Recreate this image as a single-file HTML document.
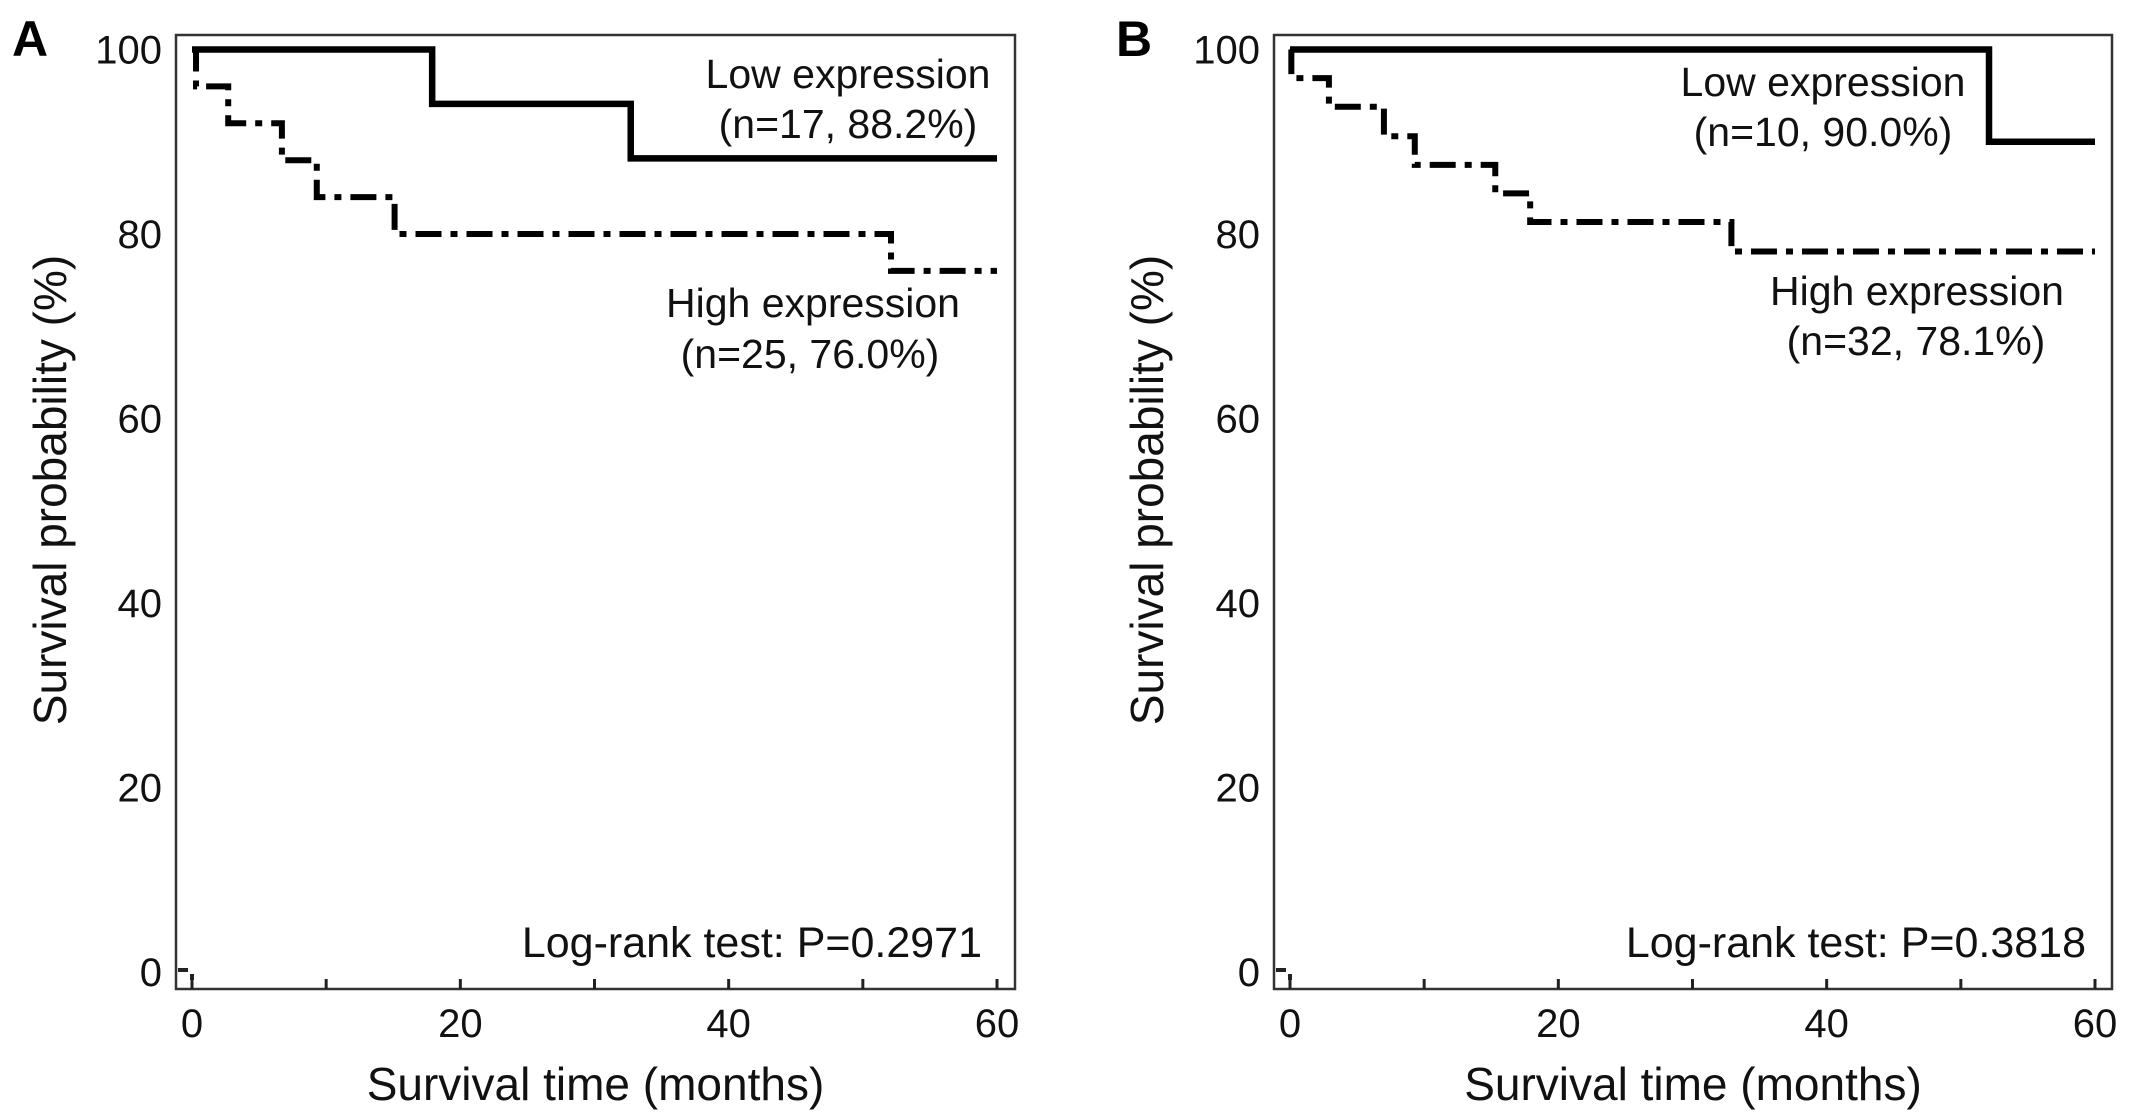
<!DOCTYPE html>
<html><head><meta charset="utf-8"><style>
html,body{margin:0;padding:0;background:#fff;}
svg{display:block;font-family:"Liberation Sans",Arial,sans-serif;}
</style></head><body>
<svg id="fig" width="2138" height="1118" viewBox="0 0 2138 1118"></svg>
<script>
const yTicks=[0,20,40,60,80,100];
const xTicks=[0,20,40,60];
const xMinor=[10,30,50];
// Panel A
const aLowTimes=[0,17.9,32.7,60];
const aLowSurv=[100,94.1,88.2,88.2];
const aHighTimes=[0,0.3,2.7,6.7,9.3,15.1,52.1,60];
const aHighSurv=[100,96,92,88,84,80,76,76];
// Panel B
const bLowTimes=[0,52.1,60];
const bLowSurv=[100,90,90];
const bHighTimes=[0,0.1,2.9,7.0,9.3,15.3,17.9,32.9,60];
const bHighSurv=[100,96.9,93.8,90.6,87.5,84.4,81.3,78.1,78.1];

const NS="http://www.w3.org/2000/svg";
const svg=document.getElementById('fig');
function el(tag,attrs,parent,text){const e=document.createElementNS(NS,tag);for(const k in attrs)e.setAttribute(k,attrs[k]);if(text!==undefined)e.textContent=text;(parent||svg).appendChild(e);return e;}

function panel(cfg){
  const g=el('g',{});
  
  
  const X=t=>cfg.x0+(t/60)*(cfg.x60-cfg.x0);
  const Y=v=>972-(v/100)*(972-49.5);
  const frame=el('rect',{x:cfg.fl,y:35,width:cfg.fr-cfg.fl,height:989-35,fill:'none',stroke:'#333',"stroke-width":2.5},g);
  
  
  xTicks.concat(xMinor).forEach(t=>{
    const tk=el('line',{x1:X(t),x2:X(t),y1:989,y2:979,stroke:'#222',"stroke-width":3},g);
    
    
  });
  xTicks.forEach(t=>{
    const tl=el('text',{x:X(t),y:1037,"text-anchor":"middle","font-size":40,fill:'#111'},g,String(t));
    
    
  });
  yTicks.forEach(v=>{
    const tl=el('text',{x:cfg.fl-14,y:Y(v)+14,"text-anchor":"end","font-size":40,fill:'#111'},g,String(v));
    
    
  });
  const st=el('path',{d:`M${cfg.fl+2} ${Y(0)-2} H${X(0)-4} M${X(0)} ${Y(0)+2} V${Y(0)+8}`,fill:'none',stroke:'#222',"stroke-width":4},g);
  
  
  function stepPath(ts,vs){let d=`M${X(ts[0])} ${Y(vs[0])}`;for(let i=1;i<ts.length;i++){d+=` H${X(ts[i])} V${Y(vs[i])}`;}return d;}
  const hi=el('path',{d:stepPath(cfg.hiT,cfg.hiS),fill:'none',stroke:'#000',"stroke-width":6,"stroke-dasharray":"26 9 7 9"},g);
  
  
  const lo=el('path',{d:stepPath(cfg.loT,cfg.loS),fill:'none',stroke:'#000',"stroke-width":6.5},g);
  
  
  const L=el('text',{x:cfg.labX,y:56,"font-size":50,"font-weight":"bold",fill:'#000'},g,cfg.id);
  
  
  const yt=el('text',{x:0,y:0,"text-anchor":"middle","font-size":46,fill:'#111',transform:`translate(${cfg.ytX},${490}) rotate(-90)`},g,'Survival probability (%)');
  
  
  const xt=el('text',{x:(cfg.fl+cfg.fr)/2,y:1100,"text-anchor":"middle","font-size":46,fill:'#111'},g,'Survival time (months)');
  
  
  cfg.ann.forEach(a=>{
    const t=el('text',{x:a[0],y:a[1],"text-anchor":a[3],"font-size":a[5],fill:'#111'},g,a[2]);
    
    
  });
}
panel({id:'A',x0:192,x60:997,fl:176,fr:1015,labX:12,ytX:66,
  loT:aLowTimes,loS:aLowSurv,hiT:aHighTimes,hiS:aHighSurv,
  ann:[[848,88,'Low expression','middle','low-label',41],[848,138,'(n=17, 88.2%)','middle','low-n-label',41],
       [813,317,'High expression','middle','high-label',41],[810,368,'(n=25, 76.0%)','middle','high-n-label',41],
       [982,957,'Log-rank test: P=0.2971','end','log-rank-label',43]]});
panel({id:'B',x0:1290,x60:2095,fl:1274,fr:2112,labX:1116,ytX:1163,
  loT:bLowTimes,loS:bLowSurv,hiT:bHighTimes,hiS:bHighSurv,
  ann:[[1823,96,'Low expression','middle','low-label',41],[1823,146,'(n=10, 90.0%)','middle','low-n-label',41],
       [1917,305,'High expression','middle','high-label',41],[1916,355,'(n=32, 78.1%)','middle','high-n-label',41],
       [2086,957,'Log-rank test: P=0.3818','end','log-rank-label',43]]});
</script>
</body></html>
